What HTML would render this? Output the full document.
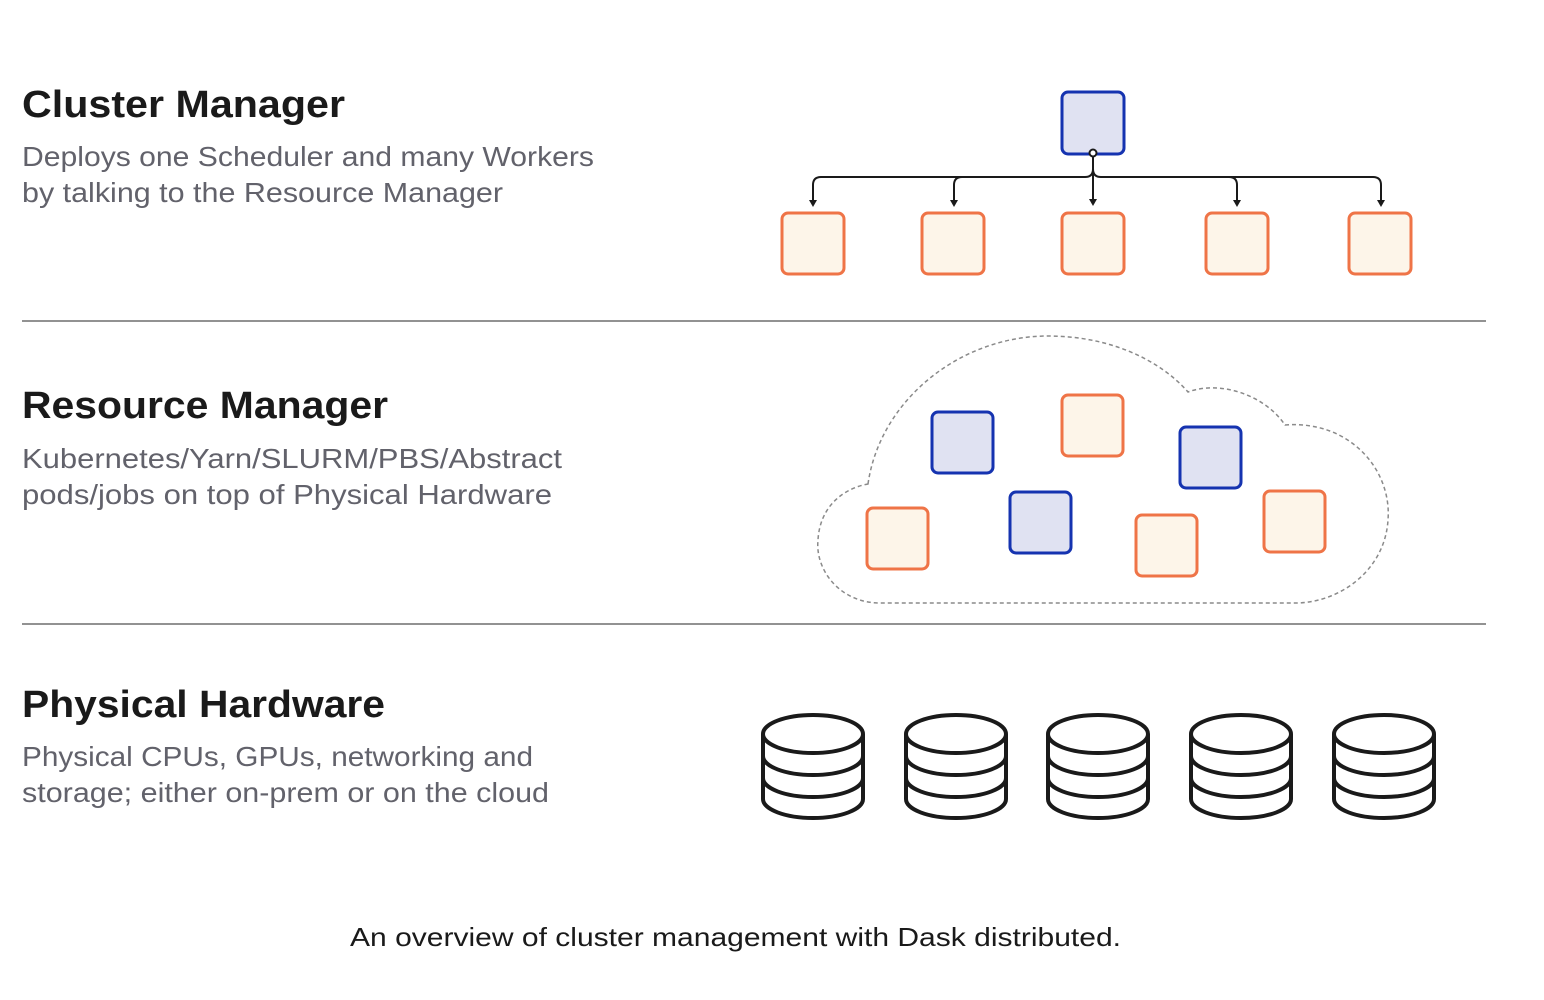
<!DOCTYPE html>
<html><head><meta charset="utf-8"><style>
html,body{margin:0;padding:0;background:#fff;}
svg{display:block;font-family:"Liberation Sans",sans-serif;}
.t{font-size:38px;font-weight:bold;fill:#1a1a1a;}
.s{font-size:28px;fill:#62626b;}
.w{fill:#fdf5e9;stroke:#ef7447;stroke-width:3;}
.b{fill:#e0e2f2;stroke:#1533b0;stroke-width:3;}
.db{fill:none;stroke:#1a1a1a;stroke-width:4;}
</style></head><body>
<svg width="1544" height="1000" viewBox="0 0 1544 1000">
<defs>
<g id="db">
<ellipse cx="0" cy="0" rx="50" ry="19" fill="none" stroke="#1a1a1a" stroke-width="4"/>
<path class="db" d="M-50 0 L-50 65 M50 0 L50 65 M-50 22 A50 19 0 0 0 50 22 M-50 44 A50 19 0 0 0 50 44 M-50 65 A50 19 0 0 0 50 65"/>
</g>
</defs>
<text class="t" x="22" y="117" textLength="323" lengthAdjust="spacingAndGlyphs">Cluster Manager</text>
<text class="s" x="22" y="166" textLength="572" lengthAdjust="spacingAndGlyphs">Deploys one Scheduler and many Workers</text>
<text class="s" x="22" y="202" textLength="481" lengthAdjust="spacingAndGlyphs">by talking to the Resource Manager</text>
<text class="t" x="22" y="418" textLength="366" lengthAdjust="spacingAndGlyphs">Resource Manager</text>
<text class="s" x="22" y="468" textLength="540" lengthAdjust="spacingAndGlyphs">Kubernetes/Yarn/SLURM/PBS/Abstract</text>
<text class="s" x="22" y="504" textLength="530" lengthAdjust="spacingAndGlyphs">pods/jobs on top of Physical Hardware</text>
<text class="t" x="22" y="717" textLength="363" lengthAdjust="spacingAndGlyphs">Physical Hardware</text>
<text class="s" x="22" y="766" textLength="511" lengthAdjust="spacingAndGlyphs">Physical CPUs, GPUs, networking and</text>
<text class="s" x="22" y="802" textLength="527" lengthAdjust="spacingAndGlyphs">storage; either on-prem or on the cloud</text>
<text x="350" y="946" font-size="26" fill="#1a1a1a" textLength="771" lengthAdjust="spacingAndGlyphs">An overview of cluster management with Dask distributed.</text>
<line x1="22" y1="321" x2="1486" y2="321" stroke="#6e6e6e" stroke-width="1.5"/>
<line x1="22" y1="624" x2="1486" y2="624" stroke="#6e6e6e" stroke-width="1.5"/>
<!-- cluster -->
<rect class="b" x="1062" y="92" width="62" height="62" rx="6"/>
<g fill="none" stroke="#1a1a1a" stroke-width="2">
<path d="M1093 156 L1093 169 Q1093 177 1085 177 L821 177 Q813 177 813 185 L813 201"/>
<path d="M1085 177 L962 177 Q954 177 954 185 L954 201"/>
<path d="M1093 169 Q1093 177 1101 177 L1373 177 Q1381 177 1381 185 L1381 201"/>
<path d="M1229 177 Q1237 177 1237 185 L1237 201"/>
<path d="M1093 169 L1093 200"/>
</g>
<g fill="#1a1a1a">
<path d="M809 200 L817 200 L813 207 Z"/>
<path d="M950 200 L958 200 L954 207 Z"/>
<path d="M1089 199 L1097 199 L1093 206 Z"/>
<path d="M1233 200 L1241 200 L1237 207 Z"/>
<path d="M1377 200 L1385 200 L1381 207 Z"/>
</g>
<circle cx="1093" cy="153" r="3.5" fill="#fff" stroke="#1a1a1a" stroke-width="2"/>
<rect class="w" x="782" y="213" width="62" height="61" rx="6"/>
<rect class="w" x="922" y="213" width="62" height="61" rx="6"/>
<rect class="w" x="1062" y="213" width="62" height="61" rx="6"/>
<rect class="w" x="1206" y="213" width="62" height="61" rx="6"/>
<rect class="w" x="1349" y="213" width="62" height="61" rx="6"/>
<!-- cloud -->
<path d="M868 484 C880 400 960 336 1048 336 C1110 336 1160 360 1188 392 C1220 380 1265 395 1285 425 C1350 420 1392 470 1388 520 C1385 570 1340 603 1295 603 L880 603 C840 603 815 570 818 540 C820 505 845 488 868 484 Z" fill="none" stroke="#8a8a8a" stroke-width="1.5" stroke-dasharray="4 3"/>
<rect class="b" x="932" y="412" width="61" height="61" rx="6"/>
<rect class="w" x="1062" y="395" width="61" height="61" rx="6"/>
<rect class="b" x="1180" y="427" width="61" height="61" rx="6"/>
<rect class="w" x="867" y="508" width="61" height="61" rx="6"/>
<rect class="b" x="1010" y="492" width="61" height="61" rx="6"/>
<rect class="w" x="1136" y="515" width="61" height="61" rx="6"/>
<rect class="w" x="1264" y="491" width="61" height="61" rx="6"/>
<!-- dbs -->
<use href="#db" x="813" y="734"/>
<use href="#db" x="956" y="734"/>
<use href="#db" x="1098" y="734"/>
<use href="#db" x="1241" y="734"/>
<use href="#db" x="1384" y="734"/>
</svg>
</body></html>
